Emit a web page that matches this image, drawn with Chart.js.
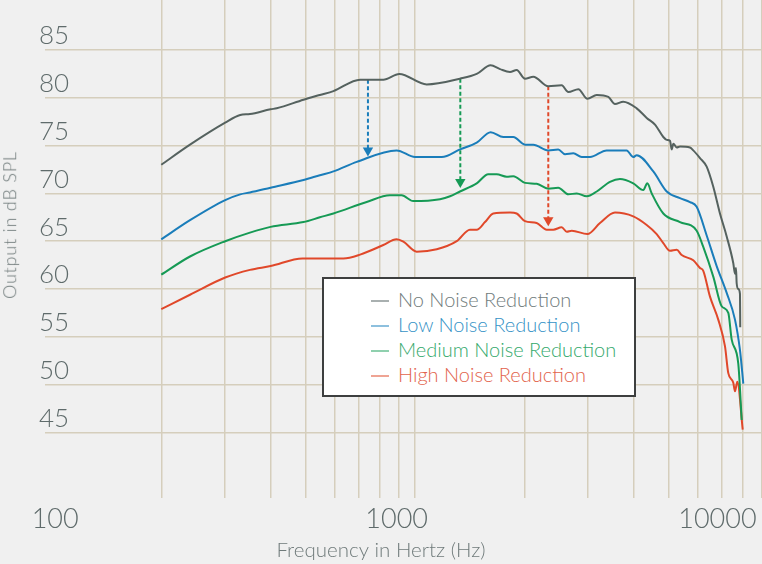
<!DOCTYPE html>
<html>
<head>
<meta charset="utf-8">
<script src="https://cdn.jsdelivr.net/npm/chart.js@4.4.1/dist/chart.umd.min.js"></script>
<style>
  html, body { margin: 0; padding: 0; background: #f0f0f0; }
  #wrap { position: relative; width: 762px; height: 564px; overflow: hidden; background: #f0f0f0; }
  #c { position: absolute; left: 0; top: 0; }
  #legend { position: absolute; left: 322px; top: 277px; width: 310px; height: 116px;
    background: #ffffff; border: 2px solid #3d3f3f; box-sizing: content-box;
    font-family: 'Lato', sans-serif; font-weight: 300; font-size: 20px; }
  #legend .row { position: absolute; left: 47px; height: 25px; line-height: 25px; white-space: nowrap; }
  #legend .dash { display: inline-block; width: 18px; height: 2px; vertical-align: middle; margin-right: 9px; position: relative; top: -1px; }
  #ytitle { position: absolute; left: 9.5px; top: 225px; transform: translate(-50%, -50%) rotate(-90deg);
    font-family: 'Lato', sans-serif; font-weight: 300; font-size: 18px; letter-spacing: 0.8px;
    line-height: 1.2; white-space: nowrap; color: #6f7a7a; }
</style>
</head>
<body>
<div id="wrap">
  <canvas id="c" width="762" height="564"></canvas>
  <div id="ytitle">Output in dB SPL</div>
  <div id="legend"></div>
</div>
<script>
// ---------- data ----------
const seriesNames = ['No Noise Reduction', 'Low Noise Reduction', 'Medium Noise Reduction', 'High Noise Reduction'];

const freqNo = [200,240,300,330,351,400,416,493,547,596,706,818,905,1077,1330,1479,1616,1715,1827,1906,2009,2118,2329,2536,2645,2818,2985,3167,3408,3556,3747,4080,4348,4583,4831,4937,5041,5096,5148,5259,5370,5722,5843,6097,6361,6633,6920,7222,7531,7612,7661,7694,7773,7857,7870];
const valNo  = [73.0,75.1,77.4,78.2,78.3,78.8,78.9,79.8,80.3,80.7,81.9,81.9,82.5,81.4,82.0,82.5,83.4,83.0,82.7,82.9,82.0,82.2,81.2,81.3,80.6,80.9,79.9,80.3,80.1,79.35,79.6,78.9,77.9,77.2,75.9,75.6,75.5,74.6,75.2,74.8,74.9,74.8,74.5,73.7,72.8,70.7,67.9,65.5,62.7,61.6,62.2,60.6,60.0,59.5,56.0];

const freqLow = [200,240,300,330,351,400,493,547,596,691,890,1000,1185,1330,1479,1616,1751,1866,2009,2118,2329,2481,2590,2730,2879,3035,3374,3829,3993,4080,4534,4937,5370,5722,5970,6361,6777,7222,7612,7857,8025];
const valLow  = [65.2,67.2,69.3,69.9,70.1,70.6,71.4,71.9,72.3,73.3,74.5,73.8,73.8,74.6,75.3,76.4,75.9,75.9,75.1,75.1,74.5,74.6,74.1,74.2,73.8,73.8,74.5,74.5,73.8,74.0,72.3,70.2,69.5,69.1,68.6,65.6,62.4,59.6,56.8,53.6,50.1];

const freqMed = [200,240,300,351,400,493,547,596,736,853,919,989,1172,1249,1330,1479,1592,1679,1789,1866,2009,2164,2329,2481,2645,2790,2972,3167,3444,3670,3993,4256,4364,4488,4831,5370,5970,6225,6633,6995,7296,7455,7773,7943];
const valMed  = [61.5,63.4,65.0,65.9,66.5,67.0,67.5,67.9,69.1,69.8,69.8,69.2,69.4,69.7,70.2,71.05,72.0,72.0,71.75,71.8,71.1,71.0,70.5,70.6,69.9,70.0,69.7,70.2,71.2,71.5,71.05,70.35,71.05,70.0,67.9,67.0,66.1,64.4,61.3,58.2,57.5,54.7,52.2,46.3];

const freqHigh = [200,240,300,351,400,490,635,706,818,890,929,1011,1148,1303,1417,1479,1559,1643,1827,1906,2009,2164,2306,2404,2536,2618,2703,2985,3233,3556,3993,4348,4632,4831,5041,5259,5429,5843,6097,6225,6496,6846,7145,7296,7531,7612,7724,7995];
const valHigh  = [57.9,59.4,61.2,62.0,62.4,63.2,63.2,63.6,64.6,65.2,64.95,63.9,64.15,65.0,66.2,66.2,67.0,67.9,68.0,67.9,67.1,66.9,66.2,66.2,66.45,66.0,66.1,65.75,66.9,68.0,67.6,66.7,65.75,64.8,64.0,64.1,63.55,63.0,62.2,61.9,59.2,56.8,54.0,51.2,50.2,49.3,50.3,45.3];

// dashed arrows: frequency, start level, end level
const arrowFreq  = [742, 1333, 2329];
const arrowFrom  = [81.9, 82.0, 81.2];
const arrowTo    = [74.5, 71.2, 67.2];

// axes
const yTickValues = [45, 50, 55, 60, 65, 70, 75, 80, 85];
const xGridFreqs  = [200,300,400,500,600,700,800,900,1000,2000,3000,4000,5000,6000,7000,8000,9000];
const xTickLabels = ['100', '1000', '10000'];
const xTickLabelAt = [102, 890, 6810];

// ---------- styles ----------
const lineColors   = ['#55625f', '#1a7dba', '#169a55', '#e0482a'];
const legendText   = ['#6f7b7b', '#3592c6', '#34a96c', '#e2634c'];
const legendDash   = ['#a9b0b0', '#8dc0de', '#8fd0ae', '#efa494'];
const arrowColors  = ['#1a7dba', '#169a55', '#e0482a'];
const gridColor = '#d5cebc';
const tickColor = '#5f6b6b';
const titleColor = '#6f7a7a';

const freqs = [freqNo, freqLow, freqMed, freqHigh];
const vals  = [valNo, valLow, valMed, valHigh];

const datasets = seriesNames.map((name, i) => ({
  label: name,
  data: freqs[i].map((f, k) => ({ x: f, y: vals[i][k] })),
  borderColor: lineColors[i],
  borderWidth: 2,
  pointRadius: 0,
  cubicInterpolationMode: 'monotone',
  fill: false
}));

arrowFreq.forEach((f, i) => {
  datasets.push({
    label: 'arrow' + i,
    data: [{ x: f, y: arrowFrom[i] }, { x: f, y: arrowTo[i] }],
    borderColor: arrowColors[i],
    backgroundColor: arrowColors[i],
    borderWidth: 2,
    borderDash: [4, 2.5],
    pointRadius: [0, 6],
    pointHoverRadius: 0,
    pointStyle: 'triangle',
    rotation: 180,
    pointBorderWidth: 0,
    tension: 0,
    fill: false
  });
});

// legend (HTML)
const lg = document.getElementById('legend');
seriesNames.forEach((name, i) => {
  const r = document.createElement('div');
  r.className = 'row';
  r.style.top = (8 + i * 25) + 'px';
  r.style.color = legendText[i];
  const d = document.createElement('span');
  d.className = 'dash';
  d.style.background = legendDash[i];
  r.appendChild(d);
  r.appendChild(document.createTextNode(name));
  lg.appendChild(r);
});

const xMin = 95.66, xMax = 9035;

new Chart(document.getElementById('c'), {
  type: 'line',
  data: { datasets },
  options: {
    responsive: false,
    animation: false,
    events: [],
    layout: { padding: 0, autoPadding: false },
    plugins: {
      legend: { display: false },
      tooltip: { enabled: false },
      title: {
        display: true, position: 'bottom', text: 'Frequency in Hertz (Hz)',
        color: titleColor, font: { family: 'Lato', size: 20.5, weight: '300' },
        padding: { top: 0, bottom: 1 }
      }
    },
    scales: {
      x: {
        type: 'logarithmic', position: 'bottom', weight: 0,
        min: xMin, max: xMax,
        afterBuildTicks: s => { s.ticks = xGridFreqs.map(v => ({ value: v })); },
        afterFit: s => { s.height = 0; s.paddingLeft = 0; s.paddingRight = 0; },
        ticks: { display: false },
        grid: { color: gridColor, lineWidth: 1.5, drawTicks: false },
        border: { display: false }
      },
      xl: {
        type: 'logarithmic', position: 'bottom', weight: 1,
        min: xMin, max: xMax,
        afterBuildTicks: s => { s.ticks = xTickLabelAt.map(v => ({ value: v })); },
        afterFit: s => { s.height = 40.4; s.paddingLeft = 0; s.paddingRight = 0; },
        ticks: {
          callback: (v, i) => xTickLabels[i],
          autoSkip: false, maxRotation: 0, minRotation: 0,
          padding: 5, color: tickColor,
          font: { family: 'Lato', size: 27, weight: '300' }
        },
        grid: { display: false, drawTicks: false },
        border: { display: false }
      },
      y: {
        type: 'linear', position: 'left',
        min: 38.14, max: 90.23,
        afterBuildTicks: s => { s.ticks = yTickValues.map(v => ({ value: v })); },
        afterFit: s => { s.width = 45; s.paddingTop = 0; s.paddingBottom = 0; },
        ticks: {
          mirror: true, padding: -6, labelOffset: -14,
          color: tickColor, font: { family: 'Lato', size: 26, weight: '300' }
        },
        grid: { color: gridColor, lineWidth: 1.5, drawTicks: false },
        border: { display: false }
      }
    }
  }
});
</script>
</body>
</html>
